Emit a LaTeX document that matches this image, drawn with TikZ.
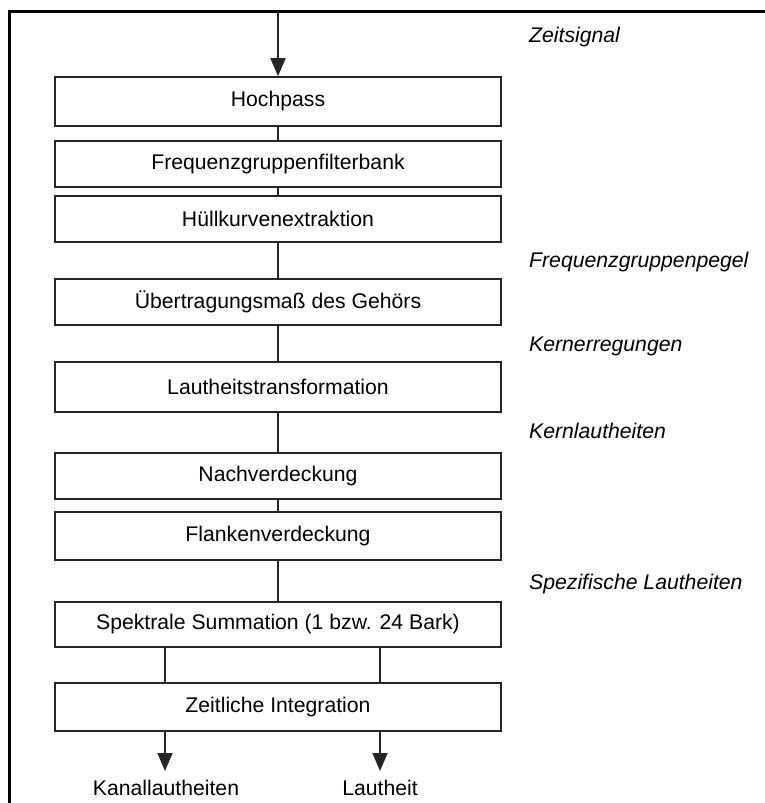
\documentclass[tikz,border=0pt]{standalone}
\usepackage{fontspec}
\setmainfont{Liberation Sans}
\usetikzlibrary{arrows.meta}
\tikzset{
  stage/.style={draw=black!85, line width=1.6pt, minimum width=446pt, inner sep=0pt, font=\fontsize{21.2}{25}\selectfont},
  conn/.style={draw=black!85, line width=1.6pt},
  arr/.style={conn, -{Triangle[width=15pt,length=18pt]}},
  sig/.style={anchor=base west, inner sep=0pt, font=\fontsize{21.2}{25}\selectfont\itshape},
  outlbl/.style={anchor=base, inner sep=0pt, font=\fontsize{21.2}{25}\selectfont},
  frame/.style={line width=3pt, black}
}
\begin{document}
\begin{tikzpicture}[x=1pt,y=-1pt]
\useasboundingbox (0,0) rectangle (765,803);
% frame
\coordinate (fc) at (9,11);
\coordinate (fr) at (766,11);
\coordinate (fb) at (9,804);
\draw[frame] (fr) -- (fc) -- (fb);
% boxes
\node[stage, minimum height=49pt] (hp) at (278,101.5) {Hochpass};
\node[stage, minimum height=46pt] (fg) at (278,164) {Frequenzgruppenfilterbank};
\node[stage, minimum height=46pt] (hk) at (278,219) {Hüllkurvenextraktion};
\node[stage, minimum height=46pt] (ug) at (278,302) {Übertragungsmaß des Gehörs};
\node[stage, minimum height=50pt] (lt) at (278,387) {Lautheitstransformation};
\node[stage, minimum height=46pt] (nv) at (278,476) {Nachverdeckung};
\node[stage, minimum height=48pt] (fv) at (278,536) {Flankenverdeckung};
\node[stage, minimum height=45pt] (ss) at (278,624.5) {Spektrale Summation (1 bzw. 24 Bark)};
\node[stage, minimum height=48pt] (zi) at (278,707) {Zeitliche Integration};
% input arrow
\coordinate (in) at (278,11);
\draw[arr] (in) -- (hp.north);
% chain
\draw[conn] (hp.south) -- (fg.north);
\draw[conn] (fg.south) -- (hk.north);
\draw[conn] (hk.south) -- (ug.north);
\draw[conn] (ug.south) -- (lt.north);
\draw[conn] (lt.south) -- (nv.north);
\draw[conn] (nv.south) -- (fv.north);
\draw[conn] (fv.south) -- (ss.north);
% two channels
\draw[conn] (ss.south -| 165,0) -- (zi.north -| 165,0);
\draw[conn] (ss.south -| 380,0) -- (zi.north -| 380,0);
% outputs
\coordinate (o1) at (165,771);
\coordinate (o2) at (380,771);
\draw[arr] (zi.south -| o1) -- (o1);
\draw[arr] (zi.south -| o2) -- (o2);
\node[outlbl] (k1) at (166,795) {Kanallautheiten};
\node[outlbl] (k2) at (380,795) {Lautheit};
% signal labels
\node[sig] (s1) at (529,42) {Zeitsignal};
\node[sig] (s2) at (529,267) {Frequenzgruppenpegel};
\node[sig] (s3) at (529,351) {Kernerregungen};
\node[sig] (s4) at (529,438) {Kernlautheiten};
\node[sig] (s5) at (529,589) {Spezifische Lautheiten};
\end{tikzpicture}
\end{document}
